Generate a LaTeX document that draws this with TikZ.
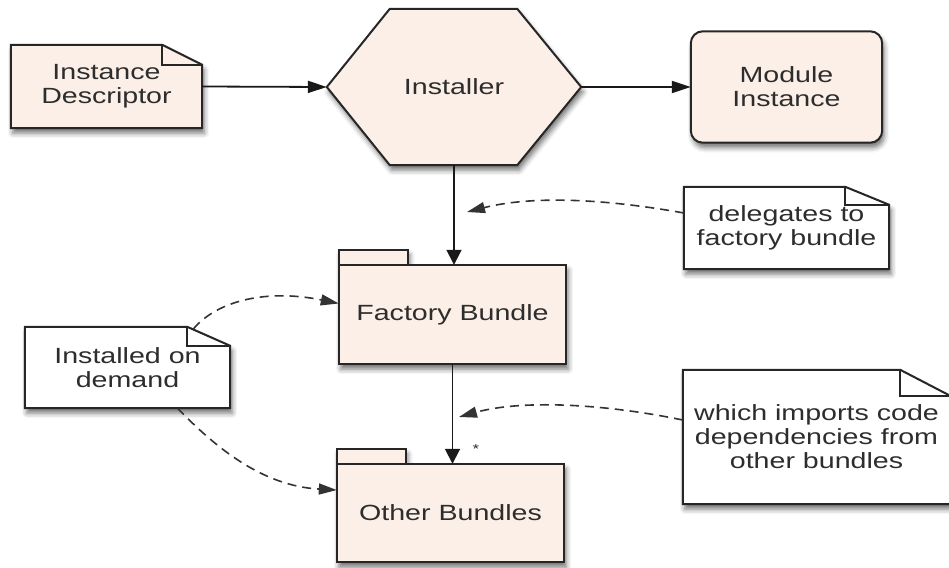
\documentclass[tikz,border=0pt]{standalone}
\usepackage{fontspec}
\setmainfont{Liberation Sans}[FakeStretch=1.3]
\usetikzlibrary{arrows.meta,shadows.blur,backgrounds,calc}

\definecolor{peach}{RGB}{252,239,231}
\definecolor{ink}{RGB}{45,45,45}

\tikzset{
  txtbox/.style={inner sep=0pt, align=center, text=ink,
    font=\fontsize{22}{24}\selectfont},
  outline/.style={draw=black!85, line width=2pt,
    blur shadow={shadow xshift=2pt, shadow yshift=-5pt,
      shadow blur radius=5pt, shadow opacity=55}},
  foldline/.style={draw=black!85, line width=1.7pt},
  flow/.style={draw=black!90, line width=1.8pt,
    -{Triangle[length=19pt,width=12pt]}},
  vflow/.style={draw=black!90, line width=1.8pt,
    -{Triangle[length=15pt,width=15pt]}},
  hint/.style={draw=black!80, line width=1.6pt, dash pattern=on 9pt off 6pt,
    -{Triangle[length=18pt,width=11pt]}},
}

% note with a folded top-right corner: node, fill, fold width, fold height
\newcommand\dogearnote[4]{%
  \begin{scope}[on background layer]
    \draw[outline, fill=#2] (#1.south west) -- (#1.north west)
      -- ([xshift=-#3pt]#1.north east) -- ([yshift=-#4pt]#1.north east)
      -- (#1.south east) -- cycle;
    \draw[foldline] ([xshift=-#3pt]#1.north east)
      -- ([xshift=-#3pt,yshift=-#4pt]#1.north east)
      -- ([yshift=-#4pt]#1.north east);
  \end{scope}}

% package (folder) outline with a tab on the top-left
\newcommand\pkgbox[1]{%
  \begin{scope}[on background layer]
    \draw[outline, fill=peach] (#1.south west) -- (#1.north west)
      -- ++(0,-15) -- ++(69,0) -- ++(0,15)
      -- (#1.north east) -- (#1.south east) -- cycle;
    \draw[foldline] (#1.north west) -- ++(69,0);
  \end{scope}}

\begin{document}
\begin{tikzpicture}[x=1pt,y=-1pt]
\useasboundingbox (0,0) rectangle (949,567);

% nodes
\node[txtbox, minimum width=191, minimum height=83] (desc) at (106.5,86.5) {Instance\\Descriptor};
\node[txtbox, minimum width=254, minimum height=156] (inst) at (454,87) {Installer};
\node[txtbox, minimum width=191, minimum height=111] (mod) at (786.5,87) {Module\\Instance};
\node[txtbox, minimum width=205, minimum height=82] (deleg) at (786.5,228) {delegates to\\factory bundle};
\node[txtbox, minimum width=227, minimum height=99] (fact) at (452.5,314.5) {Factory Bundle};
\node[txtbox, minimum width=205, minimum height=81] (demand) at (127.5,367.5) {Installed on\\demand};
\node[txtbox, minimum width=227, minimum height=98] (other) at (450.5,513) {Other Bundles};
\node[txtbox, minimum width=267, minimum height=134] (imports) at (816.5,437) {which imports code\\dependencies from\\other bundles};
\node[inner sep=0pt, text=ink, font=\fontsize{13}{13}\selectfont] (mult) at (476,449) {*};

% shapes
\dogearnote{desc}{peach}{40}{20}
\dogearnote{deleg}{white}{44}{18}
\dogearnote{demand}{white}{43}{19}
\dogearnote{imports}{white}{50}{26}
\pkgbox{fact}
\pkgbox{other}
\begin{scope}[on background layer]
  \draw[outline, fill=peach] (inst.west) -- ([xshift=63pt]inst.north west)
    -- ([xshift=-64pt]inst.north east) -- (inst.east)
    -- ([xshift=-64pt]inst.south east) -- ([xshift=63pt]inst.south west) -- cycle;
  \draw[outline, fill=peach, rounded corners=12pt] (mod.south west) rectangle (mod.north east);
\end{scope}

% solid connectors
\draw[flow] (desc.east) -- (inst.west);
\draw[flow] (inst.east) -- (mod.west);
\draw[vflow] (inst.south) -- (inst.south |- fact.north);
\draw[vflow] (fact.south) -- (fact.south |- other.north);

% dashed annotation connectors
\coordinate (dtip) at (467,212);
\coordinate (itip) at (459,417);
\draw[hint] ([yshift=15pt]deleg.west) .. controls (600,198) and (530,196) .. (dtip);
\draw[hint] ([yshift=17pt]imports.west) .. controls (600,403) and (520,400) .. (itip);
\draw[hint] ([xshift=66pt,yshift=-2pt]demand.north) .. controls (218,300) and (268,289) .. ([yshift=11pt]fact.west);
\draw[hint] ([xshift=50pt]demand.south) .. controls (215,447) and (262,486) .. ([yshift=23pt]other.west);
\end{tikzpicture}
\end{document}
